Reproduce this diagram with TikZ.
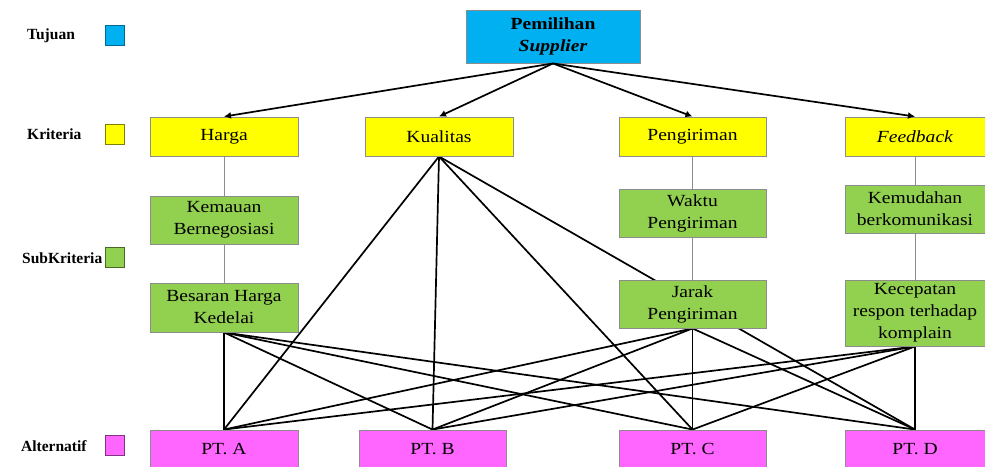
\documentclass[tikz,border=0pt]{standalone}
\usepackage{fontspec}
\setmainfont{Liberation Serif}[FakeStretch=1.15]
\newfontfamily\legfont{Liberation Serif}
\usetikzlibrary{arrows.meta}
\pgfdeclarelayer{bg}
\pgfsetlayers{bg,main}
\definecolor{cTuj}{HTML}{00B0F0}
\definecolor{cKri}{HTML}{FFFF00}
\definecolor{cSub}{HTML}{92D050}
\definecolor{cAlt}{HTML}{FF66FF}
\definecolor{cBorder}{HTML}{8C8C8C}
\tikzset{
  box/.style={draw=cBorder, line width=0.9pt, inner sep=1pt, align=center,
    font=\fontsize{17}{22}\selectfont},
  topbox/.style={box, fill=cTuj, minimum width=174pt, minimum height=53pt},
  kribox/.style={box, fill=cKri, minimum height=39pt},
  subbox/.style={box, fill=cSub},
  altbox/.style={box, fill=cAlt, minimum height=38pt},
  legtext/.style={anchor=west, inner sep=0pt, font=\legfont\fontsize{15.5}{18}\selectfont\bfseries},
  legsq/.style={line width=0.9pt, minimum width=19pt, minimum height=20pt, inner sep=0pt},
  arr/.style={line width=1.7pt, -{Latex[length=7pt,width=7pt]}},
  thin/.style={draw=cBorder, line width=1pt},
  link/.style={line width=1.7pt},
}
\begin{document}
\begin{tikzpicture}[x=1pt,y=-1pt]
\useasboundingbox (0,0) rectangle (985,466);
% legend
\node[legtext] (lt1) at (27,36) {Tujuan};
\node[legtext] (lt2) at (27,134) {Kriteria};
\node[legtext] (lt3) at (22,258) {SubKriteria};
\node[legtext] (lt4) at (21,446) {Alternatif};
\node[legsq, draw=cTuj!60!black, fill=cTuj] (ls1) at (114.5,35) {};
\node[legsq, draw=cKri!50!black, fill=cKri] (ls2) at (114.5,134.5) {};
\node[legsq, draw=cSub!50!black, fill=cSub] (ls3) at (114.5,257.5) {};
\node[legsq, draw=cAlt!50!black, fill=cAlt] (ls4) at (114.5,445.5) {};
% goal
\node[topbox] (goal) at (553,36.5) {\textbf{Pemilihan}\\\textbf{\textit{Supplier}}};
% criteria
\node[kribox, minimum width=148pt] (harga) at (224,136.5) {Harga};
\node[kribox, minimum width=148pt] (kual) at (439,136.5) {Kualitas};
\node[kribox, minimum width=147pt] (peng) at (692.5,136.5) {Pengiriman};
\node[kribox, minimum width=140pt] (feed) at (915,136.5) {\textit{Feedback}};
% sub criteria
\node[subbox, minimum width=148pt, minimum height=48pt] (kem) at (224,220) {Kemauan\\Bernegosiasi};
\node[subbox, minimum width=148pt, minimum height=49pt] (bes) at (224,307.5) {Besaran Harga\\Kedelai};
\node[subbox, minimum width=147pt, minimum height=48pt] (wak) at (692.5,213) {Waktu\\Pengiriman};
\node[subbox, minimum width=147pt, minimum height=48pt] (jar) at (692.5,304) {Jarak\\Pengiriman};
\node[subbox, minimum width=140pt, minimum height=48pt] (kmd) at (915,209) {Kemudahan\\berkomunikasi};
\node[subbox, minimum width=140pt, minimum height=66pt] (kec) at (915,313) {Kecepatan\\respon terhadap\\komplain};
% alternatives
\node[altbox, minimum width=148pt] (pa) at (224,449) {PT. A};
\node[altbox, minimum width=147pt] (pb) at (432.5,449) {PT. B};
\node[altbox, minimum width=147pt] (pc) at (692.5,449) {PT. C};
\node[altbox, minimum width=140pt] (pd) at (915,449) {PT. D};
% arrows
\foreach \t in {harga,kual,peng,feed}
  \draw[arr] (goal.south) -- (\t.north);
\begin{pgfonlayer}{bg}
  \draw[thin] (harga.south) -- (kem.north) (kem.south) -- (bes.north);
  \draw[thin] (peng.south) -- (wak.north) (wak.south) -- (jar.north);
  \draw[thin] (feed.south) -- (kmd.north) (kmd.south) -- (kec.north);
  \foreach \s in {kual,bes,jar,kec}
    \foreach \t in {pa,pb,pc,pd}
      \draw[link] (\s.south) -- (\t.north);
\end{pgfonlayer}
\end{tikzpicture}
\end{document}
